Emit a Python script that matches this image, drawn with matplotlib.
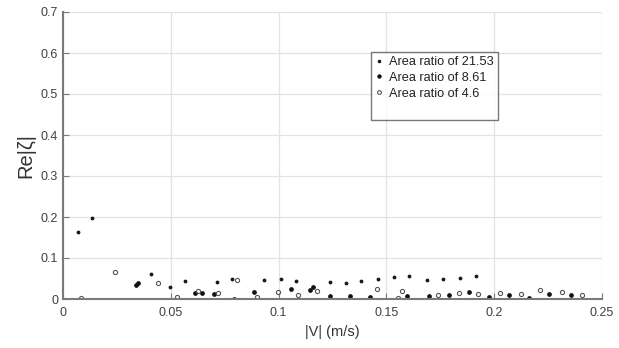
import matplotlib
matplotlib.use("Agg")
import matplotlib.pyplot as plt
from matplotlib.lines import Line2D

plt.rcParams['font.family'] = ['Liberation Sans', 'DejaVu Sans']

# Area ratio 21.53
v_a = [0.0070, 0.0133, 0.0410, 0.0497, 0.0564, 0.0712, 0.0785, 0.0930, 0.1011, 0.1083,
       0.1237, 0.1311, 0.1384, 0.1461, 0.1537, 0.1606, 0.1690, 0.1764, 0.1840, 0.1917]
z_a = [0.164, 0.197, 0.062, 0.030, 0.045, 0.0425, 0.050, 0.046, 0.048, 0.043,
       0.0425, 0.0385, 0.044, 0.048, 0.053, 0.0565, 0.0475, 0.049, 0.052, 0.0557]
# Area ratio 8.61
v_b = [0.0338, 0.0348, 0.0613, 0.0643, 0.0701, 0.0791, 0.0885, 0.1057, 0.1147, 0.1158,
       0.1238, 0.1330, 0.1422, 0.1597, 0.1696, 0.1790, 0.1882, 0.1978, 0.2068, 0.2163,
       0.2255, 0.2354]
z_b = [0.034, 0.039, 0.014, 0.015, 0.012, 0.001, 0.017, 0.025, 0.021, 0.029,
       0.0074, 0.0074, 0.005, 0.0066, 0.008, 0.009, 0.016, 0.0057, 0.0098, 0.0025,
       0.0115, 0.0098]
# Area ratio 4.6
v_c = [0.0084, 0.0243, 0.0440, 0.0527, 0.0624, 0.0717, 0.0808, 0.0902, 0.0997, 0.1088,
       0.1180, 0.1455, 0.1555, 0.1572, 0.1740, 0.1838, 0.1925, 0.2029, 0.2122, 0.2214,
       0.2314, 0.2407]
z_c = [0.0025, 0.066, 0.038, 0.004, 0.020, 0.014, 0.046, 0.006, 0.017, 0.009,
       0.020, 0.024, 0.003, 0.020, 0.0098, 0.014, 0.013, 0.0147, 0.013, 0.022,
       0.018, 0.0106]

labels = ['Area ratio of 21.53', 'Area ratio of 8.61', 'Area ratio of 4.6']
xticks = [0, 0.05, 0.1, 0.15, 0.2, 0.25]
xticklabels = ['0', '0.05', '0.1', '0.15', '0.2', '0.25']
yticks = [0, 0.1, 0.2, 0.3, 0.4, 0.5, 0.6, 0.7]
yticklabels = ['0', '0.1', '0.2', '0.3', '0.4', '0.5', '0.6', '0.7']

fig = plt.figure(figsize=(6.19, 3.48), dpi=100)
ax = fig.add_axes([63/619, 49/348, 539/619, 287/348])

ax.plot(v_a, z_a, linestyle='none', marker='.', markersize=3.5, color='#1a1a1a', label=labels[0])
ax.plot(v_b, z_b, linestyle='none', marker='o', markersize=2.4, color='#111111', label=labels[1])
ax.plot(v_c, z_c, linestyle='none', marker='o', markersize=3.0, markerfacecolor='none',
        markeredgecolor='#555555', markeredgewidth=0.8, label=labels[2])

ax.set_xlim(0, 0.25)
ax.set_ylim(0, 0.7)
ax.set_xticks(xticks)
ax.set_xticklabels(xticklabels)
ax.set_yticks(yticks)
ax.set_yticklabels(yticklabels)
ax.grid(True, color='#e3e3e3', linewidth=0.9)
ax.set_axisbelow(True)
for s in ['top', 'right']:
    ax.spines[s].set_visible(False)
for s in ['left', 'bottom']:
    ax.spines[s].set_color('#7a7a7a')
    ax.spines[s].set_linewidth(1.5)
ax.tick_params(direction='in', length=4, width=0.8, colors='#7a7a7a',
               labelcolor='#404040', labelsize=9)
ax.tick_params(axis='x', pad=6)

ax.set_xlabel('|V| (m/s)', fontsize=10.5, color='#333333', labelpad=4)
ax.set_ylabel('Re|ζ|', fontsize=14.5, color='#333333', labelpad=4)

handles, lbls = ax.get_legend_handles_labels()
handles.append(Line2D([], [], linestyle='none'))
lbls.append(' ')
leg = ax.legend(handles, lbls, loc='upper left', bbox_to_anchor=(0.571, 0.862),
                fontsize=9.2, frameon=True, fancybox=False, handlelength=0.6,
                handletextpad=0.5, borderpad=0.35, labelspacing=0.3,
                borderaxespad=0, markerscale=0.9)
leg.get_frame().set_edgecolor('#555555')
leg.get_frame().set_linewidth(1.0)
for t in leg.get_texts():
    t.set_color('#222222')

fig.savefig('out.png', dpi=100)
